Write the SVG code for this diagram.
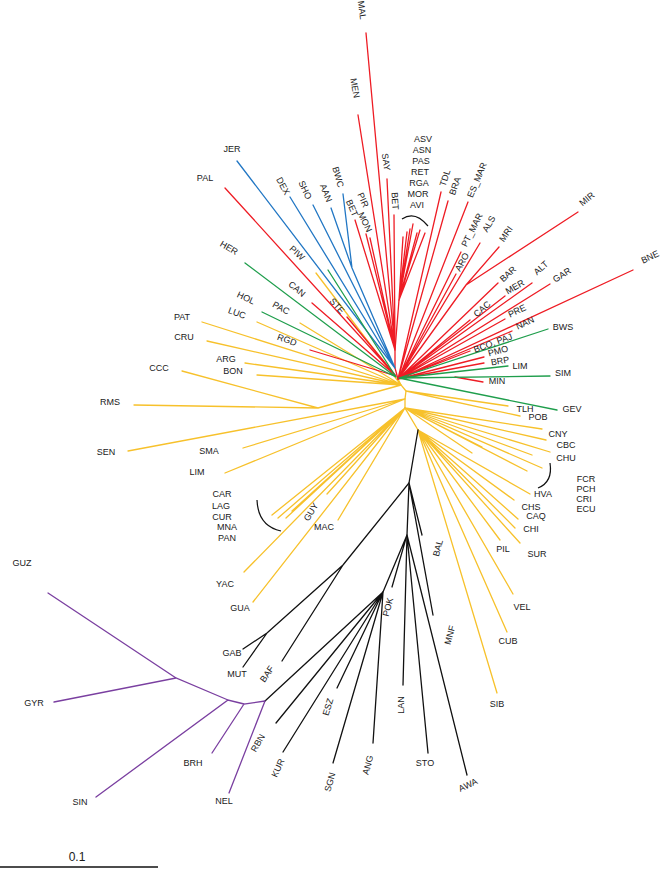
<svg xmlns="http://www.w3.org/2000/svg" width="660" height="869" viewBox="0 0 660 869">
<style>
.t{font-family:"Liberation Sans",Arial,sans-serif;font-size:9px;fill:#1a1a1a;text-anchor:middle;dominant-baseline:central}
.e{fill:none;stroke-width:1.3;stroke-linecap:round}
.r{stroke:#ee1c24}.b{stroke:#2277c4}.g{stroke:#1f9e4c}.y{stroke:#f7c12b}.k{stroke:#111}.p{stroke:#7a3fa0}
.arc{fill:none;stroke:#111;stroke-width:1.2}
</style>
<rect width="660" height="869" fill="#fff"/>
<g id="connectors">
<!-- yellow -->
<g class="e y">
<path d="M398 379L401 385L406 391L405 399L405 408L418 430"/>
<path d="M401 385L316 273M401 385L300 323M401 385L257 322M401 385L202 322M401 385L207 341M401 385L245 363M401 385L257 375M401 385L318 408M318 408L182 371M318 408L134 405"/>
<path d="M405 399L128 451M405 399L243 448M405 399L225 473"/>
<path d="M405 408L327 494M405 408L272 515M405 408L278 518M405 408L286 518M405 408L292 511M405 408L298 506M405 408L338 520M405 408L244 572M405 408L253 602"/>
<path d="M406 391L508 406M406 391L520 416"/>
<path d="M405 408L542 429M405 408L546 440M405 408L550 452M405 408L532 455M405 408L542 468M405 408L527 471M405 408L482 447M405 408L472 453"/>
<path d="M418 430L530 494M418 430L514 500M418 430L518 519M418 430L515 528M418 430L520 543M418 430L500 540M418 430L513 594M418 430L507 632M418 430L497 693"/>
</g>
<!-- red -->
<g class="e r">
<path d="M398 379L395 368L395 350L399 300"/>
<path d="M395 350L366 33M395 350L358 115M395 350L387 179M395 350L394 215M395 350L355 220M395 350L366 234M395 350L370 238"/>
<path d="M399 300L403 237M399 300L407 232M399 300L410 229M399 300L413 224M399 300L417 233M399 300L420 230M399 300L425 233"/>
<path d="M398 379L441 192M398 379L448 201M399 378L468 202M399 378L461 252M399 378L456 274M399 378L480 243M399 378L466 285L499 247M466 285L578 212"/>
<path d="M398 379L498 283M398 379L470 320M398 379L532 283M398 379L505 296M398 379L550 284M398 379L505 319M398 379L633 270M398 379L512 331M398 379L470 351M398 379L484 357M398 379L484 363M455 377L483 382"/>
<path d="M396 376L225 188M396 376L312 303M396 376L347 317M396 376L310 350"/>
</g>
<!-- blue -->
<g class="e b">
<path d="M395 368L237 161M395 368L290 197M395 368L313 205M395 368L352 268L331 208M352 268L343 194"/>
</g>
<!-- green -->
<g class="e g">
<path d="M396 377L245 263M396 377L262 312M396 377L328 270"/>
<path d="M399 378L548 329M399 378L508 366M399 378L550 376M399 378L557 410"/>
</g>
<!-- black -->
<g class="e k">
<path d="M418 430L409 483L343 565L267 633L243 649M267 633L243 667M343 565L282 661"/>
<path d="M409 483L422 535M409 483L433 615M409 483L407 535L392 587M407 535L383 592"/>
<path d="M383 592L337 688M383 592L333 763M383 592L283 752M383 592L276 723M383 592L373 743M383 592L265 701"/>
<path d="M407 535L403 685M407 535L428 753M407 535L467 775"/>
</g>
<!-- purple -->
<g class="e p">
<path d="M265 701L229 793M265 701L244 704L212 753M244 704L228 700L96 797M228 700L176 678L54 702M176 678L48 593"/>
</g>
<path class="arc" d="M402 219Q415 210 428 226"/>
<path class="arc" d="M257 500Q258 526 281 531"/>
<path class="arc" d="M550 463Q553 482 538 488"/>
</g>
<!-- red leaves -->
<g id="n-MAL"><text class="t" transform="translate(362 10) rotate(82)">MAL</text></g>
<g id="n-MEN"><text class="t" transform="translate(355 88) rotate(80)">MEN</text></g>
<g id="n-SAY"><text class="t" transform="translate(386 162) rotate(82)">SAY</text></g>
<g id="n-BET2"><text class="t" transform="translate(395 201) rotate(86)">BET</text></g>
<g id="n-BET1"><text class="t" transform="translate(352 208) rotate(66)">BET</text></g>
<g id="n-PIR"><text class="t" transform="translate(363 200) rotate(66)">PIR</text></g>
<g id="n-MON"><text class="t" transform="translate(365 222) rotate(64)">MON</text></g>
<g id="n-ASV"><text class="t" x="423" y="139">ASV</text></g>
<g id="n-ASN"><text class="t" x="422" y="150">ASN</text></g>
<g id="n-PAS"><text class="t" x="421" y="161">PAS</text></g>
<g id="n-RET"><text class="t" x="420" y="172">RET</text></g>
<g id="n-RGA"><text class="t" x="419" y="183">RGA</text></g>
<g id="n-MOR"><text class="t" x="418" y="194">MOR</text></g>
<g id="n-AVI"><text class="t" x="417" y="205">AVI</text></g>
<g id="n-TDL"><text class="t" transform="translate(445 178) rotate(-72)">TDL</text></g>
<g id="n-BRA"><text class="t" transform="translate(455 186) rotate(-70)">BRA</text></g>
<g id="n-ES_MAR"><text class="t" transform="translate(477 180) rotate(-67)">ES_MAR</text></g>
<g id="n-PT_MAR"><text class="t" transform="translate(472 230) rotate(-63)">PT_MAR</text></g>
<g id="n-ARO"><text class="t" transform="translate(462 262) rotate(-62)">ARO</text></g>
<g id="n-ALS"><text class="t" transform="translate(489 224) rotate(-60)">ALS</text></g>
<g id="n-MRI"><text class="t" transform="translate(506 234) rotate(-55)">MRI</text></g>
<g id="n-MIR"><text class="t" transform="translate(587 199) rotate(-40)">MIR</text></g>
<g id="n-BAR"><text class="t" transform="translate(508 274) rotate(-42)">BAR</text></g>
<g id="n-CAC"><text class="t" transform="translate(482 309) rotate(-40)">CAC</text></g>
<g id="n-ALT"><text class="t" transform="translate(541 268) rotate(-42)">ALT</text></g>
<g id="n-MER"><text class="t" transform="translate(515 287) rotate(-30)">MER</text></g>
<g id="n-GAR"><text class="t" transform="translate(562 275) rotate(-32)">GAR</text></g>
<g id="n-PRE"><text class="t" transform="translate(517 311) rotate(-25)">PRE</text></g>
<g id="n-BNE"><text class="t" transform="translate(650 257) rotate(-25)">BNE</text></g>
<g id="n-NAN"><text class="t" transform="translate(525 323) rotate(-25)">NAN</text></g>
<g id="n-BCO_PAJ"><text class="t" transform="translate(493 343) rotate(-20)">BCO, PAJ</text></g>
<g id="n-PMO"><text class="t" transform="translate(498 351) rotate(-15)">PMO</text></g>
<g id="n-BRP"><text class="t" transform="translate(500 361) rotate(-10)">BRP</text></g>
<g id="n-MIN"><text class="t" x="497" y="381">MIN</text></g>
<g id="n-PAL"><text class="t" x="205" y="178">PAL</text></g>
<g id="n-CAN"><text class="t" transform="translate(297 289) rotate(40)">CAN</text></g>
<g id="n-STE"><text class="t" transform="translate(337 306) rotate(48)">STE</text></g>
<g id="n-RGD"><text class="t" transform="translate(287 340) rotate(20)">RGD</text></g>
<!-- blue leaves -->
<g id="n-JER"><text class="t" x="232" y="149">JER</text></g>
<g id="n-DEX"><text class="t" transform="translate(283 186) rotate(62)">DEX</text></g>
<g id="n-SHO"><text class="t" transform="translate(305 190) rotate(65)">SHO</text></g>
<g id="n-AAN"><text class="t" transform="translate(326 193) rotate(68)">AAN</text></g>
<g id="n-BWC"><text class="t" transform="translate(338 177) rotate(74)">BWC</text></g>
<!-- green leaves -->
<g id="n-HER"><text class="t" transform="translate(229 248) rotate(30)">HER</text></g>
<g id="n-HOL"><text class="t" transform="translate(246 298) rotate(25)">HOL</text></g>
<g id="n-BWS"><text class="t" x="563" y="327">BWS</text></g>
<g id="n-LIM2"><text class="t" x="520" y="366">LIM</text></g>
<g id="n-SIM"><text class="t" x="563" y="373">SIM</text></g>
<g id="n-GEV"><text class="t" x="572" y="409">GEV</text></g>
<!-- yellow leaves -->
<g id="n-PIW"><text class="t" transform="translate(297 253) rotate(42)">PIW</text></g>
<g id="n-PAC"><text class="t" transform="translate(281 308) rotate(28)">PAC</text></g>
<g id="n-LUC"><text class="t" transform="translate(237 313) rotate(20)">LUC</text></g>
<g id="n-PAT"><text class="t" x="182" y="317">PAT</text></g>
<g id="n-CRU"><text class="t" x="184" y="337">CRU</text></g>
<g id="n-ARG"><text class="t" x="226" y="359">ARG</text></g>
<g id="n-BON"><text class="t" x="233" y="371">BON</text></g>
<g id="n-CCC"><text class="t" x="159" y="368">CCC</text></g>
<g id="n-RMS"><text class="t" x="110" y="402">RMS</text></g>
<g id="n-SEN"><text class="t" x="106" y="452">SEN</text></g>
<g id="n-SMA"><text class="t" x="209" y="451">SMA</text></g>
<g id="n-LIM"><text class="t" x="197" y="472">LIM</text></g>
<g id="n-CAR"><text class="t" x="222" y="494">CAR</text></g>
<g id="n-LAG"><text class="t" x="221" y="506">LAG</text></g>
<g id="n-CUR"><text class="t" x="222" y="517">CUR</text></g>
<g id="n-MNA"><text class="t" x="227" y="527">MNA</text></g>
<g id="n-PAN"><text class="t" x="227" y="538">PAN</text></g>
<g id="n-GUY"><text class="t" transform="translate(311 512) rotate(-58)">GUY</text></g>
<g id="n-MAC"><text class="t" x="324" y="527">MAC</text></g>
<g id="n-YAC"><text class="t" x="225" y="584">YAC</text></g>
<g id="n-GUA"><text class="t" x="240" y="608">GUA</text></g>
<g id="n-TLH"><text class="t" x="525" y="409">TLH</text></g>
<g id="n-POB"><text class="t" x="538" y="417">POB</text></g>
<g id="n-CNY"><text class="t" x="558" y="434">CNY</text></g>
<g id="n-CBC"><text class="t" x="566" y="445">CBC</text></g>
<g id="n-CHU"><text class="t" x="566" y="458">CHU</text></g>
<g id="n-FCR"><text class="t" x="586" y="479">FCR</text></g>
<g id="n-PCH"><text class="t" x="586" y="489">PCH</text></g>
<g id="n-CRI"><text class="t" x="584" y="499">CRI</text></g>
<g id="n-ECU"><text class="t" x="586" y="509">ECU</text></g>
<g id="n-HVA"><text class="t" x="543" y="494">HVA</text></g>
<g id="n-CHS"><text class="t" x="531" y="507">CHS</text></g>
<g id="n-CAQ"><text class="t" x="536" y="516">CAQ</text></g>
<g id="n-CHI"><text class="t" x="531" y="529">CHI</text></g>
<g id="n-SUR"><text class="t" x="537" y="554">SUR</text></g>
<g id="n-PIL"><text class="t" x="503" y="549">PIL</text></g>
<g id="n-VEL"><text class="t" x="522" y="607">VEL</text></g>
<g id="n-CUB"><text class="t" x="508" y="641">CUB</text></g>
<g id="n-SIB"><text class="t" x="497" y="704">SIB</text></g>
<!-- black leaves -->
<g id="n-GAB"><text class="t" x="232" y="653">GAB</text></g>
<g id="n-MUT"><text class="t" x="237" y="674">MUT</text></g>
<g id="n-BAF"><text class="t" transform="translate(267 674) rotate(-55)">BAF</text></g>
<g id="n-BAL"><text class="t" transform="translate(438 548) rotate(-75)">BAL</text></g>
<g id="n-MNF"><text class="t" transform="translate(450 635) rotate(-75)">MNF</text></g>
<g id="n-POK"><text class="t" transform="translate(388 607) rotate(-75)">POK</text></g>
<g id="n-ESZ"><text class="t" transform="translate(328 707) rotate(-72)">ESZ</text></g>
<g id="n-RBN"><text class="t" transform="translate(258 743) rotate(-60)">RBN</text></g>
<g id="n-KUR"><text class="t" transform="translate(278 768) rotate(-65)">KUR</text></g>
<g id="n-SGN"><text class="t" transform="translate(330 782) rotate(-75)">SGN</text></g>
<g id="n-ANG"><text class="t" transform="translate(368 765) rotate(-75)">ANG</text></g>
<g id="n-LAN"><text class="t" transform="translate(401 705) rotate(-90)">LAN</text></g>
<g id="n-STO"><text class="t" x="425" y="763">STO</text></g>
<g id="n-AWA"><text class="t" transform="translate(468 785) rotate(-25)">AWA</text></g>
<!-- purple leaves -->
<g id="n-NEL"><text class="t" x="224" y="801">NEL</text></g>
<g id="n-BRH"><text class="t" x="193" y="763">BRH</text></g>
<g id="n-SIN"><text class="t" x="80" y="802">SIN</text></g>
<g id="n-GYR"><text class="t" x="34" y="703">GYR</text></g>
<g id="n-GUZ"><text class="t" x="22" y="563">GUZ</text></g>
<!-- scale -->
<g id="scale">
<line x1="0" y1="867" x2="158" y2="867" stroke="#111" stroke-width="1.5"/>
<text class="t" x="77" y="857" style="font-size:12px">0.1</text>
</g>
</svg>
